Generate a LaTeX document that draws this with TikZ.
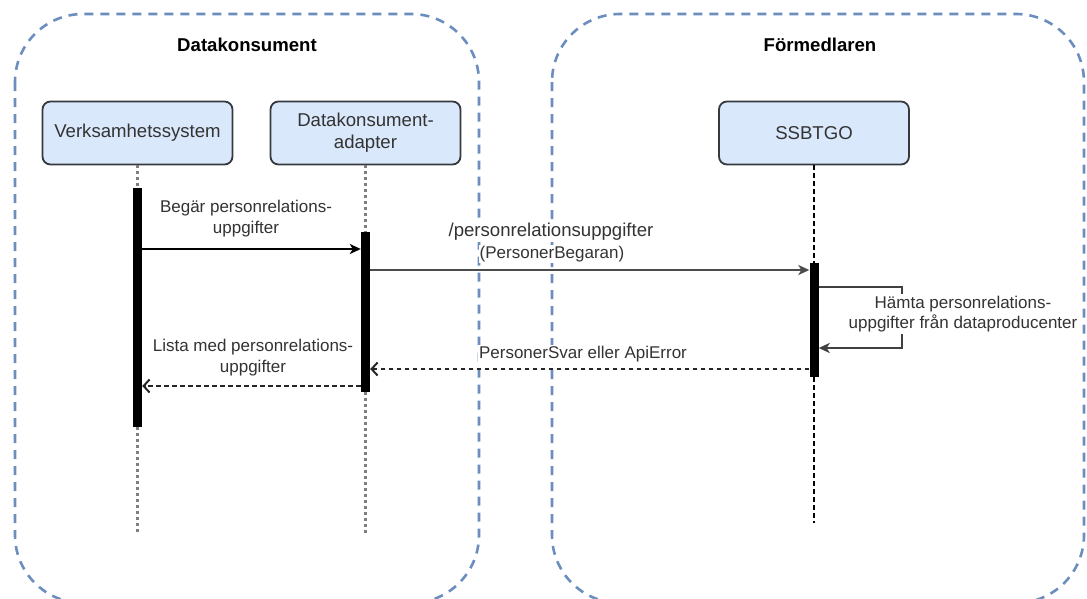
\documentclass[tikz,border=0pt]{standalone}
\usepackage{fontspec}
\setmainfont{Liberation Sans}
\usetikzlibrary{arrows.meta}
\definecolor{cont}{HTML}{6C8EBF}
\definecolor{partfill}{HTML}{DAE8FC}
\definecolor{partdraw}{HTML}{36393D}
\definecolor{txt}{HTML}{333333}
\definecolor{lifegray}{HTML}{7F7F7F}
\tikzset{
  container/.style={draw=cont, line width=2.6pt, dash pattern=on 9pt off 7pt, rounded corners=68pt},
  title/.style={font=\bfseries\fontsize{18.6}{22}\selectfont, text=black},
  part/.style={draw=partdraw, fill=partfill, line width=1.8pt, rounded corners=8pt,
    minimum width=190pt, minimum height=63pt, align=center, text=txt,
    font=\fontsize{18.6}{22}\selectfont},
  bar/.style={fill=black, draw=none, inner sep=0pt, minimum width=9pt},
  life/.style={draw=lifegray, line width=2.2pt, dash pattern=on 3pt off 3pt},
  lifeblack/.style={draw=black, line width=1.6pt, dash pattern=on 4.5pt off 3.5pt},
  msg/.style={draw=black, line width=2pt, -{Stealth[length=11pt,width=10pt,inset=3pt]}},
  msgg/.style={draw=black!70, line width=2.4pt, -{Stealth[length=11pt,width=10pt,inset=3pt]}},
  ret/.style={draw=black!85, line width=2pt, dash pattern=on 4.5pt off 3.5pt, -{Straight Barb[length=6pt,width=13pt]}},
  lbl/.style={align=center, text=txt, fill=white, inner xsep=1pt, inner ysep=1.5pt, font=\fontsize{17}{20.5}\selectfont},
  lblbig/.style={align=center, text=txt, fill=white, inner xsep=1pt, inner ysep=1.5pt, font=\fontsize{18.6}{22}\selectfont},
}
\begin{document}
\begin{tikzpicture}[x=1pt, y=-1pt]
\useasboundingbox (0,0) rectangle (1087,598);
\fill[white] (0,0) rectangle (1087,598);
% containers
\draw[container] (15,14) rectangle (479,603);
\draw[container] (552,14) rectangle (1084,603);
\node[title] (t1) at (247,45) {Datakonsument};
\node[title] (t2) at (820,45) {Förmedlaren};
% participants
\node[part] (vs) at (137.5,133) {Verksamhetssystem};
\node[part] (ad) at (365.5,133) {Datakonsument-\\adapter};
\node[part] (ss) at (814,133) {SSBTGO};
% activation bars
\node[bar, minimum height=239pt] (vsb) at (137.5,307.5) {};
\node[bar, minimum height=160pt] (adb) at (365.5,312) {};
\node[bar, minimum height=114pt] (ssb) at (814,320) {};
% lifeline ends
\coordinate (vsend) at (137.5,535);
\coordinate (adend) at (365.5,535);
\coordinate (ssend) at (814,523);
\draw[life] (vs.south) -- (vsb.north);
\draw[life] (vsb.south) -- (vsend);
\draw[life] (ad.south) -- (adb.north);
\draw[life] (adb.south) -- (adend);
\draw[lifeblack] (ss.south) -- (ssb.north);
\draw[lifeblack] (ssb.south) -- (ssend);
% message heights
\coordinate (m1) at (0,249);
\coordinate (m2) at (0,270);
\coordinate (s1) at (0,287);
\coordinate (s2) at (0,348);
\coordinate (m4) at (0,369);
\coordinate (m5) at (0,386);
\coordinate (loopx) at (902,0);
% messages
\draw[msg] (vsb.east |- m1) -- (adb.west |- m1);
\node[lbl] (l1) at (246,218.5) {Begär personrelations-\\uppgifter};
\draw[msgg] (adb.east |- m2) -- (ssb.west |- m2);
\node[lblbig] (l2a) at (551,232) {/personrelationsuppgifter};
\node[lbl] (l2b) at (552,254) {(PersonerBegaran)};
\draw[msg, draw=black!75] (ssb.east |- s1) -- (loopx |- s1) -- (loopx |- s2) -- (ssb.east |- s2);
\node[lbl] (l3) at (963,314) {Hämta personrelations-\\uppgifter från dataproducenter};
\draw[ret] (ssb.west |- m4) -- (adb.east |- m4);
\node[lbl] (l4) at (583,354) {PersonerSvar eller ApiError};
\draw[ret] (adb.west |- m5) -- (vsb.east |- m5);
\node[lbl] (l5) at (253,357.5) {Lista med personrelations-\\uppgifter};
\end{tikzpicture}
\end{document}
